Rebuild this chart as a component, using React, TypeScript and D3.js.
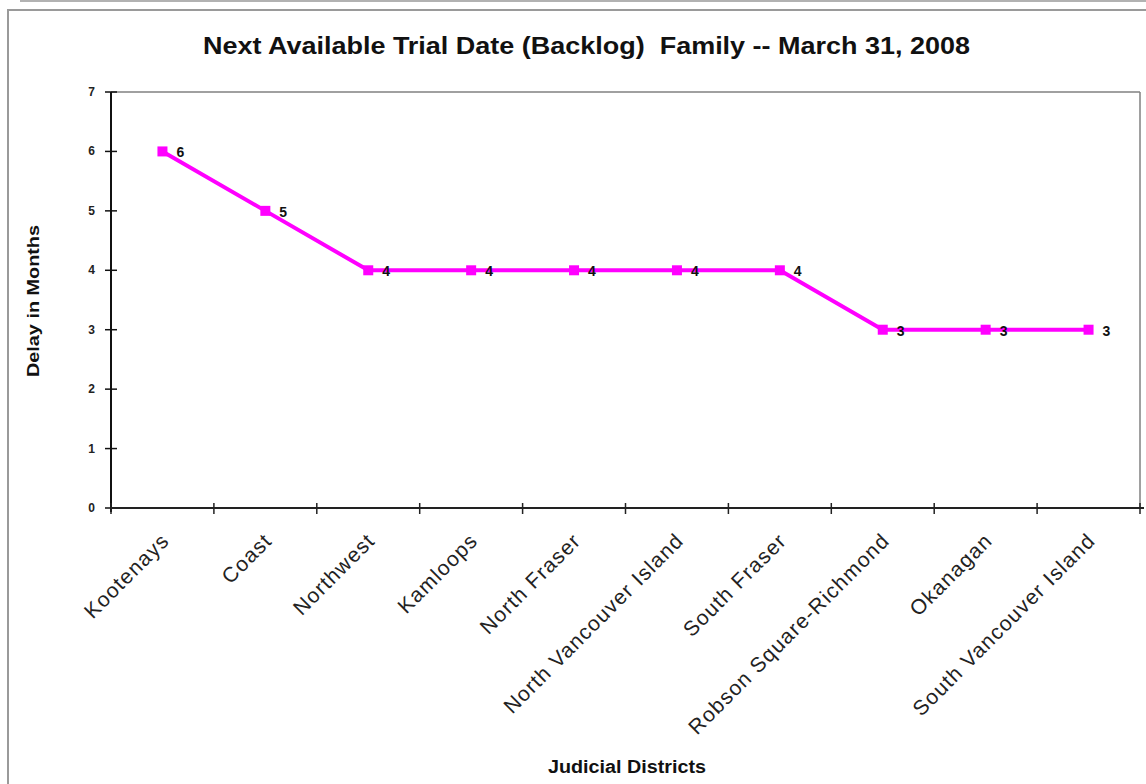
import React from "react";
import * as d3 from "d3";

const districts = [
  "Kootenays",
  "Coast",
  "Northwest",
  "Kamloops",
  "North Fraser",
  "North Vancouver Island",
  "South Fraser",
  "Robson Square-Richmond",
  "Okanagan",
  "South Vancouver Island",
];
const delayMonths = [6, 5, 4, 4, 4, 4, 4, 3, 3, 3];
const yTicks = [0, 1, 2, 3, 4, 5, 6, 7];

const W = 1146;
const H = 784;
const left = 111;
const right = 1140;
const top = 92;
const bottom = 508;

export default function App() {
  const x = d3.scaleBand<string>().domain(districts).range([left, right]).padding(0);
  const y = d3.scaleLinear().domain([0, 7]).range([bottom, top]);
  const line = d3
    .line<number>()
    .x((_, i) => (x(districts[i]) as number) + x.bandwidth() / 2)
    .y((d) => y(d));
  const font = "'Liberation Sans', Arial, sans-serif";
  const tickXs = districts.map((d) => x(d) as number).concat([right]);

  return (
    <svg
      width={W}
      height={H}
      style={{ position: "absolute", left: 0, top: 0, display: "block", background: "#fff" }}
      fontFamily={font}
    >
      {/* outer frames */}
      <line x1={20} y1={1} x2={W} y2={1} stroke="#999" strokeWidth={1.5} />
      <rect x={8} y={10} width={W} height={H} fill="none" stroke="#9a9a9a" strokeWidth={2} />

      {/* title */}
      <text
        x={203}
        y={54}
        fontSize={24}
        fontWeight="bold"
        fill="#111"
        xmlSpace="preserve"
        textLength={767}
        lengthAdjust="spacingAndGlyphs"
      >
        Next Available Trial Date (Backlog)  Family -- March 31, 2008
      </text>

      {/* plot frame top/right */}
      <line x1={left} y1={top} x2={right} y2={top} stroke="#808080" strokeWidth={1.5} />
      <line x1={right} y1={top} x2={right} y2={bottom} stroke="#808080" strokeWidth={1.5} />

      {/* y axis */}
      <line x1={left} y1={top} x2={left} y2={bottom + 4} stroke="#111" strokeWidth={2} />
      {yTicks.map((t) => (
        <g key={t}>
          <line x1={left - 6} y1={y(t)} x2={left + 6} y2={y(t)} stroke="#111" strokeWidth={1.5} />
          <text x={left - 16} y={y(t) + 4} textAnchor="end" fontSize={12} fontWeight="bold" fill="#222">
            {t}
          </text>
        </g>
      ))}

      {/* x axis */}
      <line x1={left} y1={bottom} x2={right + 4} y2={bottom} stroke="#222" strokeWidth={2} />
      {tickXs.map((tx, i) => (
        <line key={i} x1={tx} y1={bottom - 5} x2={tx} y2={bottom + 6} stroke="#222" strokeWidth={1.5} />
      ))}
      {districts.map((d) => {
        const cx = (x(d) as number) + x.bandwidth() / 2 + 8;
        const cy = bottom + 34;
        return (
          <text
            key={d}
            x={cx}
            y={cy}
            textAnchor="end"
            fontSize={21}
            letterSpacing={1.2}
            fill="#222"
            transform={`rotate(-45 ${cx} ${cy})`}
          >
            {d}
          </text>
        );
      })}

      {/* line series */}
      <path d={line(delayMonths) || ""} fill="none" stroke="#ff00ff" strokeWidth={4} />
      {delayMonths.map((v, i) => {
        const cx = (x(districts[i]) as number) + x.bandwidth() / 2;
        return (
          <g key={i}>
            <rect x={cx - 5} y={y(v) - 5} width={10} height={10} fill="#ff00ff" />
            <text x={cx + 14} y={y(v) + 6} fontSize={14} fontWeight="bold" fill="#111">
              {v}
            </text>
          </g>
        );
      })}

      {/* axis titles */}
      <text
        x={39}
        y={301}
        textAnchor="middle"
        fontSize={16}
        fontWeight="bold"
        fill="#111"
        textLength={152}
        lengthAdjust="spacingAndGlyphs"
        transform={`rotate(-90 39 301)`}
      >
        Delay in Months
      </text>
      <text
        x={627}
        y={773}
        textAnchor="middle"
        fontSize={18}
        fontWeight="bold"
        fill="#111"
        textLength={158}
        lengthAdjust="spacingAndGlyphs"
      >
        Judicial Districts
      </text>
    </svg>
  );
}
